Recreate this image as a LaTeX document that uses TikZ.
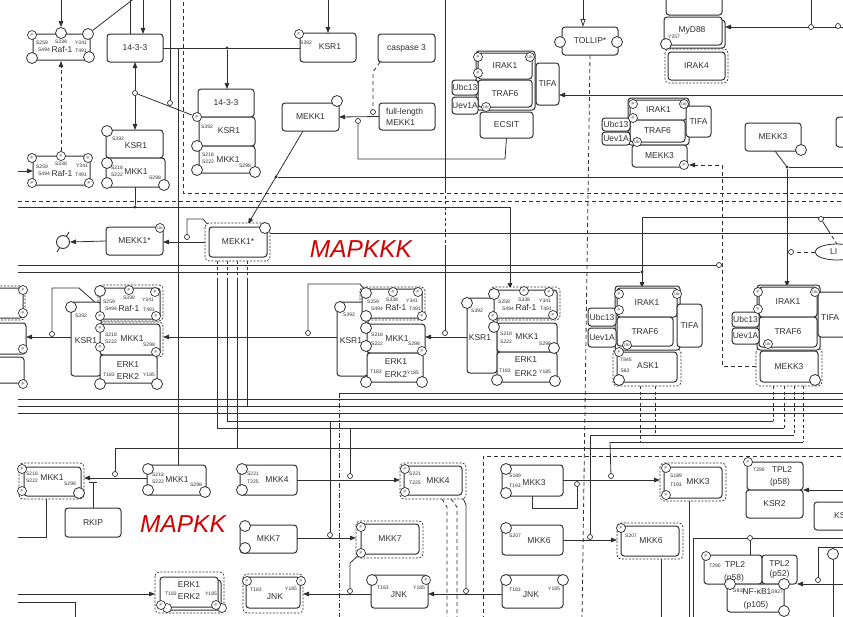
\documentclass[tikz,border=0pt]{standalone}
\usepackage{fontspec}
\setmainfont{Liberation Sans}
\usetikzlibrary{arrows.meta,backgrounds,shapes.geometric}
\definecolor{ln}{HTML}{303030}
\definecolor{mred}{HTML}{D40000}
\newcounter{lbc}
\tikzset{
  lnk/.style={draw=ln, line width=0.8pt},
  box/.style={draw=ln, line width=1pt, fill=white, rounded corners=3pt, inner sep=0pt, outer sep=0pt, font=\fontsize{8.5}{10.5}\selectfont, text=ln, align=center},
  site/.style={circle, draw=ln, line width=0.8pt, fill=white, inner sep=0pt, minimum size=11pt},
  psite/.style={circle, draw=ln, line width=0.7pt, fill=white, inner sep=0pt, minimum size=9pt, font=\fontsize{4}{4}\selectfont, text=ln},
  tl/.style={font=\fontsize{5}{5}\selectfont, text=ln, inner sep=0pt},
  lb/.style={font=\fontsize{8.5}{10.5}\selectfont, text=ln, inner sep=0pt, align=center},
  ocs/.style={circle, draw=ln, line width=0.7pt, fill=white, inner sep=0pt, minimum size=5pt},
  fds/.style={circle, fill=ln, inner sep=0pt, minimum size=3.2pt},
  arr/.style={lnk, -{Triangle[length=6pt,width=4.5pt]}},
  dsh/.style={lnk, dash pattern=on 4pt off 3pt},
  brk/.style={lnk, dash pattern=on 3pt off 2.5pt},
  dout/.style={draw=ln, line width=0.7pt, dash pattern=on 2pt off 1.5pt, rounded corners=4pt, fill=white},
  shd/.style={draw=ln, line width=1pt, fill=white, rounded corners=3pt},
  big/.style={font=\itshape\fontsize{24.5}{26}\selectfont, text=mred, inner sep=0pt},
}
\newcommand\Xbox[7][]{\node[box,minimum width={(#5)-(#3)},minimum height={(#6)-(#4)},#1] (#2) at ({((#3)+(#5))/2},{((#4)+(#6))/2}) {#7};}
\newcommand\Xst[3]{\node[site] (#1) at (#2,#3) {};}
\newcommand\Xps[3]{\node[psite] (#1) at (#2,#3) {P};}
\newcommand\Xub[3]{\node[psite] (#1) at (#2,#3) {Ub};}
\newcommand\Xtx[3]{\stepcounter{lbc}\node[tl] (t\thelbc) at (#1,#2) {#3};}
\newcommand\Xlb[3]{\stepcounter{lbc}\node[lb] (l\thelbc) at (#1,#2) {#3};}
\newcommand\Xoc[3]{\node[ocs] (#1) at (#2,#3) {};}
\newcommand\Xfd[3]{\node[fds] (#1) at (#2,#3) {};}
\newcommand\Xdb[4]{\draw[dout] (#1,#2) rectangle (#3,#4);}
\begin{document}
\begin{tikzpicture}[x=1pt,y=-1pt]
\useasboundingbox (0,0) rectangle (843,616);
% ---------- dashed outlines and shells ----------
\Xdb{98}{285}{163}{321}
\Xdb{98}{322}{163}{357}
\Xdb{360}{287}{425}{320}
\Xdb{490}{287}{560}{320}
\Xdb{613}{349}{681}{386}
\Xdb{756}{348}{822}{386}
\Xdb{665}{49}{728}{83}
\Xdb{205}{223}{270}{261}
\Xdb{19}{463}{84}{499}
\Xdb{155}{572}{224}{613}
\Xdb{243}{574}{303}{613}
\Xdb{400}{463}{466}{499}
\Xdb{356}{521}{423}{558}
\Xdb{660}{463}{726}{501}
\Xdb{617}{523}{683}{559}
\Xdb{-20}{286}{25}{320}
\draw[shd] (476,51) rectangle (535,110);
\draw[shd] (628,98) rectangle (689,145);
\draw[shd] (615,286) rectangle (680,350);
\draw[shd] (757,285) rectangle (820,350);
\draw[shd] (667,20) rectangle (725,48);
\draw[shd] (163,580) rectangle (221,610);
% ---------- boxes ----------
\Xbox{rafa}{33}{34}{90}{60}{}
\Xbox{rafb}{33}{156}{90}{185}{}
\Xbox{fa}{107}{34}{163}{62}{14-3-3}
\Xbox{ksr1a}{106}{130}{163}{158}{}
\Xbox{mkk1a}{106}{158}{165}{187}{}
\Xbox{fb}{198}{89}{254}{117}{14-3-3}
\Xbox{ksr1b}{199}{117}{255}{146}{}
\Xbox{mkk1b}{199}{146}{255}{173}{}
\Xbox{ksr1c}{300}{33}{356}{62}{}
\Xbox{casp}{378}{34}{435}{62}{caspase 3}
\Xbox{flm}{379}{103}{435}{130}{}
\Xbox{mekk1}{282}{103}{339}{131}{MEKK1}
\Xbox{irak1t}{478}{53}{532}{79}{IRAK1}
\Xbox{traf6t}{478}{80}{532}{107}{TRAF6}
\Xbox{tifat}{536}{63}{559}{105}{TIFA}
\Xbox{ubc13t}{452}{80}{478}{95}{Ubc13}
\Xbox{uev1at}{452}{97}{478}{114}{Uev1A}
\Xbox{ecsit}{480}{112}{533}{138}{ECSIT}
\Xbox{tollip}{562}{27}{618}{55}{TOLLIP*}
\Xbox{topbox}{666}{-10}{722}{15}{}
\Xbox{myd88}{664}{17}{722}{45}{}
\Xbox{irak4}{668}{52}{725}{80}{IRAK4}
\Xbox{irak1r}{630}{100}{687}{120}{IRAK1}
\Xbox{traf6r}{630}{120}{685}{142}{TRAF6}
\Xbox{mekk3r}{632}{145}{687}{167}{MEKK3}
\Xbox{tifar}{686}{106}{711}{137}{TIFA}
\Xbox{ubc13r}{602}{118}{630}{131}{Ubc13}
\Xbox{uev1ar}{602}{132}{630}{145}{Uev1A}
\Xbox{mekk3s}{745}{123}{801}{151}{MEKK3}
\Xbox{partr}{836}{117}{870}{147}{}
\Xbox{mekk1d}{106}{227}{163}{255}{MEKK1*}
\Xbox{mekk1s}{209}{227}{267}{257}{MEKK1*}
% complex A
\Xbox{pl1}{-40}{288}{23}{318}{}
\Xbox{pl2}{-40}{323}{26}{354}{}
\Xbox{pl3}{-40}{357}{24}{383}{}
\Xbox{ksrA}{71}{302}{101}{376}{}
\Xbox{rafA}{100}{288}{160}{319}{}
\Xbox{mkkA}{100}{324}{160}{355}{}
\Xbox{erkA}{100}{355}{157}{383}{}
% complex B
\Xbox{ksrB}{337}{302}{368}{376}{}
\Xbox{rafB}{362}{289}{422}{318}{}
\Xbox{mkkB}{367}{324}{425}{353}{}
\Xbox{erkB}{367}{353}{423}{382}{}
% complex C
\Xbox{ksrC}{467}{298}{497}{373}{}
\Xbox{rafC}{494}{290}{557}{318}{}
\Xbox{mkkC}{497}{323}{557}{352}{}
\Xbox{erkC}{497}{352}{557}{382}{}
% complex D
\Xbox{irak1D}{617}{288}{677}{317}{IRAK1}
\Xbox{traf6D}{617}{317}{673}{346}{TRAF6}
\Xbox{tifaD}{677}{304}{702}{347}{TIFA}
\Xbox{ubc13D}{588}{308}{616}{326}{Ubc13}
\Xbox{uev1aD}{588}{328}{616}{347}{Uev1A}
\Xbox{ask1}{617}{352}{677}{382}{}
% complex E
\Xbox{irak1E}{759}{287}{817}{317}{IRAK1}
\Xbox{traf6E}{759}{317}{817}{347}{TRAF6}
\Xbox{tifaE}{818}{292}{870}{337}{}
\Xbox{ubc13E}{732}{312}{759}{327}{Ubc13}
\Xbox{uev1aE}{732}{328}{759}{344}{Uev1A}
\Xbox{mekk3E}{760}{351}{818}{382}{MEKK3}
% bottom
\Xbox{mkk1c}{24}{467}{81}{496}{}
\Xbox{mkk1bb}{147}{465}{206}{495}{}
\Xbox{rkip}{65}{508}{121}{537}{RKIP}
\Xbox{mkk4a}{240}{465}{297}{495}{}
\Xbox{mkk7a}{240}{525}{297}{553}{MKK7}
\Xbox{erkbb}{160}{577}{218}{607}{}
\Xbox{jnkl}{246}{577}{300}{608}{}
\Xbox{mkk4b}{404}{466}{462}{495}{}
\Xbox{mkk7b}{361}{524}{419}{554}{MKK7}
\Xbox{jnka}{371}{575}{428}{608}{}
\Xbox{mkk3a}{502}{465}{563}{496}{}
\Xbox{mkk6a}{502}{525}{563}{555}{}
\Xbox{jnkb}{502}{575}{563}{608}{}
\Xbox{mkk3b}{664}{467}{722}{498}{}
\Xbox{mkk6b}{621}{526}{679}{556}{}
\Xbox{tpl2u}{747}{462}{803}{490}{}
\Xbox{ksr2}{746}{490}{803}{518}{KSR2}
\Xbox{ksp}{814}{502}{870}{530}{}
\Xbox{tpl58}{704}{555}{762}{584}{}
\Xbox{tpl52}{762}{555}{797}{584}{TPL2\\(p52)}
\Xbox{nfkb}{727}{584}{784}{612}{}
\node[ellipse, draw=ln, line width=0.8pt, fill=white, minimum width=44pt, minimum height=16pt, inner sep=0pt] (li) at (837,252) {};
\node[lb, anchor=west] (lit) at (830,252) {LI};
% ---------- sites and labels ----------
\Xps{rafaP}{32}{35}\Xst{rafa1}{61}{33}\Xst{rafa2}{88}{34}\Xst{rafa3}{32}{58}\Xst{rafa4}{89}{57}
\Xtx{42}{43}{S259}\Xtx{61}{42}{S338}\Xtx{81}{43}{Y341}\Xtx{44}{50}{S494}\Xlb{62}{49}{Raf-1}\Xtx{81}{51}{T491}
\Xps{rafb1}{32}{158}\Xps{rafb2}{61}{156}\Xps{rafb3}{88}{158}\Xps{rafb4}{32}{183}\Xps{rafb5}{89}{183}
\Xtx{42}{167}{S259}\Xtx{61}{164}{S338}\Xtx{82}{166}{Y341}\Xtx{44}{174}{S494}\Xlb{62}{173}{Raf-1}\Xtx{81}{175}{T491}
\Xst{ksr1a1}{107}{131}\Xtx{118}{139}{S392}\Xlb{136}{146}{KSR1}
\Xst{mkk1a1}{107}{163}\Xst{mkk1a2}{107}{183}\Xst{mkk1a3}{164}{185}
\Xtx{117}{168}{S218}\Xtx{117}{175}{S222}\Xlb{136}{172}{MKK1}\Xtx{155}{178}{S298}
\Xps{ksr1bP}{197}{117}\Xtx{207}{127}{S392}\Xlb{229}{131}{KSR1}
\Xst{mkk1b1}{197}{146}\Xst{mkk1b2}{197}{170}\Xst{mkk1b3}{255}{172}
\Xtx{208}{155}{S218}\Xtx{208}{162}{S222}\Xlb{228}{160}{MKK1}\Xtx{245}{166}{S298}
\Xps{ksr1cP}{299}{34}\Xtx{306}{43}{S392}\Xlb{330}{47}{KSR1}
\node[lb, align=left, anchor=west] (flt) at (386,117) {full-length\\MEKK1};
\Xst{mekk1c}{337}{101}
\Xps{irt1}{478}{57}\Xps{irt2}{478}{73}\Xub{irt3}{530}{57}\Xub{irt4}{486}{107}
\Xst{tol1}{560}{42}\Xst{tol2}{617}{42}
\Xst{myd1}{666}{44}\Xtx{674}{37}{Y257}\Xlb{692}{30}{MyD88}
\Xps{irr1}{633}{104}\Xps{irr2}{633}{118}\Xub{irr3}{684}{104}\Xub{irr4}{637}{142}\Xps{irr5}{684}{165}
\Xst{mekk3sc}{801}{150}
\Xub{mekk1dub}{160}{228}
\Xst{mekk1sc}{265}{228}
\node[circle, draw=ln, line width=0.9pt, fill=white, minimum size=13pt, inner sep=0pt] (empty) at (63,242) {};
% complex A
\Xst{rA1}{100}{291}\Xps{rA2}{129}{290}\Xps{rA3}{155}{292}\Xps{rA4}{100}{316}\Xps{rA5}{156}{316}
\Xtx{109}{302}{S259}\Xtx{129}{298}{S338}\Xtx{148}{300}{Y341}\Xtx{111}{309}{S494}\Xlb{129}{308}{Raf-1}\Xtx{149}{310}{T491}
\Xst{kA1}{71}{307}\Xtx{81}{316}{S392}\Xlb{86}{341}{KSR1}
\Xps{mA1}{100}{328}\Xps{mA2}{100}{347}\Xps{mA3}{156}{352}
\Xtx{111}{335}{S218}\Xtx{111}{342}{S222}\Xlb{132}{339}{MKK1}\Xtx{149}{345}{S298}
\Xst{eA1}{100}{384}\Xst{eA2}{157}{384}\Xlb{128}{365}{ERK1}\Xtx{109}{375}{T183}\Xlb{128}{377}{ERK2}\Xtx{149}{375}{Y185}
\Xps{pl1P}{23}{290}\Xps{pl2P}{23}{313}\Xps{pl3P}{23}{349}\Xps{pl4P}{23}{384}
% complex B
\Xst{rB1}{366}{293}\Xps{rB2}{393}{292}\Xps{rB3}{418}{292}\Xst{rB4}{366}{316}\Xps{rB5}{422}{316}
\Xtx{373}{302}{S259}\Xtx{392}{300}{S338}\Xtx{412}{301}{Y341}\Xtx{377}{309}{S494}\Xlb{396}{307}{Raf-1}\Xtx{415}{309}{T491}
\Xst{kB1}{340}{307}\Xtx{349}{315}{S392}\Xlb{351}{341}{KSR1}
\Xst{mB1}{366}{328}\Xst{mB2}{366}{346}\Xps{mB3}{422}{351}
\Xtx{377}{335}{S218}\Xtx{377}{344}{S222}\Xlb{397}{339}{MKK1}\Xtx{414}{344}{S298}
\Xst{eB1}{366}{382}\Xst{eB2}{422}{382}\Xlb{396}{362}{ERK1}\Xtx{376}{372}{T183}\Xlb{396}{375}{ERK2}\Xtx{413}{373}{Y185}
% complex C
\Xst{rC1}{494}{294}\Xps{rC2}{524}{291}\Xps{rC3}{549}{292}\Xps{rC4}{493}{316}\Xps{rC5}{553}{315}
\Xtx{504}{302}{S259}\Xtx{524}{300}{S338}\Xtx{545}{301}{Y341}\Xtx{508}{309}{S494}\Xlb{526}{307}{Raf-1}\Xtx{546}{309}{T491}
\Xst{kC1}{467}{303}\Xtx{477}{311}{S392}\Xlb{480}{338}{KSR1}
\Xst{mC1}{494}{327}\Xst{mC2}{554}{348}
\Xtx{506}{334}{S218}\Xtx{506}{342}{S222}\Xlb{527}{337}{MKK1}\Xtx{545}{344}{S298}
\Xst{eC1}{497}{380}\Xst{eC2}{555}{381}\Xlb{526}{360}{ERK1}\Xtx{505}{371}{T183}\Xlb{526}{374}{ERK2}\Xtx{545}{372}{Y185}
% complex D
\Xps{iD1}{619}{294}\Xps{iD2}{619}{310}\Xub{iD3}{677}{294}\Xub{iD4}{627}{345}\Xps{iD5}{619}{352}\Xst{iD6}{619}{380}
\Xtx{626}{360}{T845}\Xtx{625}{371}{S83}\Xlb{648}{366}{ASK1}
% complex E
\Xps{iE1}{758}{292}\Xps{iE2}{758}{309}\Xub{iE3}{815}{292}\Xub{iE4}{768}{344}\Xst{iE5}{815}{380}
\node[lb, anchor=west] (tifaEt) at (821,318) {TIFA};
% bottom
\Xps{m1c1}{22}{469}\Xps{m1c2}{22}{491}\Xst{m1c3}{79}{493}
\Xtx{32}{474}{S218}\Xtx{32}{481}{S222}\Xlb{52}{478}{MKK1}\Xtx{70}{484}{S298}
\Xst{m1b1}{148}{469}\Xst{m1b2}{148}{490}\Xst{m1b3}{205}{492}
\Xtx{158}{475}{S218}\Xtx{158}{482}{S222}\Xlb{177}{480}{MKK1}\Xtx{196}{485}{S298}
\Xst{m4a1}{242}{469}\Xst{m4a2}{242}{490}\Xtx{253}{474}{S221}\Xtx{253}{482}{T225}\Xlb{277}{480}{MKK4}
\Xst{m7a1}{245}{526}\Xst{m7a2}{245}{548}
\node[psite] (ebb0) at (167,608) {};\node[psite] (ebb00) at (222,608) {};
\Xps{ebb1}{161}{605}\Xps{ebb2}{216}{605}
\Xlb{189}{585}{ERK1}\Xtx{171}{594}{T183}\Xlb{189}{597}{ERK2}\Xtx{211}{594}{Y185}
\Xps{jl1}{247}{581}\Xps{jl2}{301}{581}\Xtx{256}{590}{T183}\Xtx{291}{589}{Y185}\Xlb{275}{597}{JNK}
\Xps{m4b1}{405}{469}\Xps{m4b2}{405}{492}\Xtx{415}{474}{S221}\Xtx{415}{483}{T225}\Xlb{438}{481}{MKK4}
\Xps{m7b1}{361}{527}\Xps{m7b2}{361}{553}
\Xst{ja1}{372}{580}\Xps{ja2}{426}{580}\Xtx{383}{588}{T183}\Xtx{419}{588}{Y185}\Xlb{399}{595}{JNK}
\Xst{m3a1}{506}{469}\Xst{m3a2}{506}{493}\Xtx{515}{476}{S189}\Xtx{515}{486}{T193}\Xlb{534}{483}{MKK3}
\Xst{m6a1}{506}{528}\Xtx{515}{536}{S207}\Xlb{539}{541}{MKK6}
\Xst{jb1}{506}{580}\Xst{jb2}{563}{580}\Xtx{515}{590}{T183}\Xtx{554}{589}{Y185}\Xlb{531}{595}{JNK}
\Xps{m3b1}{666}{468}\Xps{m3b2}{666}{495}\Xtx{676}{476}{S189}\Xtx{676}{485}{T193}\Xlb{698}{482}{MKK3}
\Xps{m6b1}{621}{528}\Xtx{631}{536}{S207}\Xlb{651}{541}{MKK6}
\Xps{tpu1}{748}{462}\Xtx{759}{470}{T290}\Xlb{782}{470}{TPL2}\Xlb{780}{482}{(p58)}
\node[lb, anchor=west] (kspt) at (834,516) {KSR2};
\Xps{tp58}{706}{556}\Xtx{715}{566}{T290}\Xlb{735}{565}{TPL2}\Xlb{734}{578}{(p58)}
\Xst{nf1}{730}{584}\Xst{nf2}{784}{584}\Xst{nf3}{784}{611}
\Xtx{739}{591}{S932}\Xlb{757}{592}{NF-κB1}\Xtx{777}{592}{S927}\Xlb{756}{605}{(p105)}
\Xst{rc1}{833}{554}
\node[big] (mapkkk) at (361,249) {MAPKKK};
\node[big] (mapkk) at (183,524) {MAPKK};
% small circles and dots
\Xoc{oc1}{170}{103}\Xoc{oc2}{135}{93}\Xfd{fd1}{227}{48}\Xfd{fd2}{135}{207}
\Xoc{oc3}{373}{112}\Xoc{oc4}{358}{121}\Xfd{fd3}{276}{177}\Xoc{oc5}{811}{27}\Xoc{oc6}{838}{26}
\Xfd{fd4}{787}{167}\Xoc{oc7}{187}{237}\Xfd{fd5}{642}{272}\Xoc{oc8}{719}{265}\Xoc{oc9}{791}{252}
\Xoc{oc10}{821}{219}\Xoc{oc11}{52}{334}\Xoc{oc12}{308}{333}\Xoc{oc13}{445}{333}
\Xoc{oc14}{115}{474}\Xoc{oc15}{350}{476}\Xoc{oc16}{330}{535}\Xoc{oc17}{350}{591}\Xoc{oc18}{466}{591}
\Xoc{oc19}{611}{476}\Xoc{oc20}{577}{484}\Xoc{oc21}{590}{537}\Xoc{oc22}{750}{538}\Xoc{oc23}{818}{580}
% ---------- connectors ----------
\begin{pgfonlayer}{background}
% frames
\draw[dsh] (183,-5) -- (183,193) -- (850,193);
\draw[dsh] (18,201) -- (850,201);
\draw[dsh] (tollip.south) -- (582,620);
\draw[dsh] (483,620) -- (483,456) -- (850,456);
\draw[lnk, dash pattern=on 5pt off 2pt on 1pt off 2pt] (339,393) -- (339,620);
\draw[lnk] (339,393) -- (850,393);
% top-left
\draw[arr] (61,-5) -- (rafa1);
\draw[lnk] (rafa2) -- (136,-3);
\draw[lnk] (130,-5) -- (130,34);
\draw[arr] (143,-5) -- (143,34);
\draw[lnk] (170,-5) -- (oc1);
\draw[arr, dash pattern=on 4pt off 3pt] (rafb2) -- (61,61);
\draw[arr] (18,171) -- (33,171);
\draw[arr] (oc2) -- (135,62);
\draw[arr] (oc2) -- (135,130);
\draw[lnk] (oc2) -- (ksr1bP);
\draw[lnk] (163,48) -- (300,48);
\draw[arr] (fd1) -- (227,89);
\draw[lnk] (178,48) -- (178,465);
\draw[lnk] (135,187) -- (fd2);
\draw[lnk] (18,207) -- (510,207);
\draw[arr] (510,207) -- (510,289);
\draw[arr] (328,-5) -- (328,33);
\draw[arr] (flm.west) -- (mekk1.east);
\draw[dsh] (380,62) -- (373,72) -- (oc3);
\draw[lnk] (oc4) -- (358,159) -- (505,159) -- (ecsit.south);
\draw[arr] (303,131) -- (248,224);
\draw[lnk] (fd3) -- (850,177);
\draw[lnk] (445,-5) -- (445,190);
\draw[brk] (445,190) -- (445,245);
\draw[lnk] (445,245) -- (oc13);
% top-right
\draw[lnk, -{Triangle[open,length=8pt,width=5pt]}] (583,-5) -- (583,27);
\draw[arr] (850,27) -- (725,27);
\draw[lnk] (811,-5) -- (oc5);
\draw[arr] (850,95) -- (559,95);
\draw[lnk] (775,151) -- (fd4);
\draw[lnk] (fd4) -- (850,167);
\draw[arr] (fd4) -- (787,287);
\draw[arr, dash pattern=on 4pt off 3pt] (756,366) -- (722,366) -- (722,165) -- (689,165);
% band
\draw[lnk] (642,217) -- (850,217);
\draw[arr] (642,217) -- (642,288);
\draw[lnk] (270,233) -- (850,233);
\draw[lnk] (18,265) -- (oc8);
\draw[lnk] (18,272) -- (fd5);
\draw[dsh] (li.west) -- (oc9);
\draw[lnk] (oc10) -- (828,230);
\draw[dsh] (828,230) -- (837,244);
\draw[arr] (mekk1d.west) -- (empty.east);
\draw[lnk, line width=0.9pt] (57,252) -- (69,232);
\draw[arr] (205,242) -- (163,242);
\draw[lnk] (oc7) -- (187,219) -- (203,219) -- (209,226);
\draw[brk] (217,261) -- (217,280); \draw[lnk] (217,280) -- (217,428) -- (784,428);
\draw[brk] (227,261) -- (227,280); \draw[lnk] (227,280) -- (227,421) -- (773,421);
\draw[brk] (237,261) -- (237,280); \draw[lnk] (237,280) -- (237,448);
\draw[brk] (247,261) -- (247,280); \draw[lnk] (247,280) -- (247,406);
\draw[lnk] (18,399) -- (850,399);
\draw[lnk] (18,406) -- (850,406);
\draw[lnk] (18,413) -- (850,413);
\draw[lnk] (115,448) -- (850,448);
\draw[brk] (640,386) -- (640,442);
\draw[brk] (655,386) -- (655,435);
\draw[brk] (773,386) -- (773,421);
\draw[brk] (784,386) -- (784,428);
\draw[brk] (794,386) -- (794,435);
\draw[brk] (803,386) -- (803,442);
\draw[lnk] (590,435) -- (794,435);
\draw[lnk] (610,442) -- (803,442);
\draw[lnk] (590,435) -- (oc21);
\draw[lnk] (610,442) -- (oc19);
% rows of complexes
\draw[arr] (71,337) -- (26,337);
\draw[lnk] (oc11) -- (52,288) -- (79,288) -- (97,304);
\draw[arr] (337,337) -- (163,337);
\draw[lnk] (oc12) -- (308,284) -- (360,284) -- (364,289);
\draw[arr] (467,337) -- (425,337);
% bottom
\draw[arr] (147,478) -- (84,478);
\draw[lnk] (115,448) -- (oc14);
\draw[lnk, -{Bar[width=8pt]}] (rkip.north) -- (93,482);
\draw[lnk] (46,499) -- (46,537) -- (18,537);
\draw[arr] (18,594) -- (155,594);
\draw[lnk] (18,602) -- (75,602) -- (75,620);
\draw[arr] (297,480) -- (400,480);
\draw[lnk] (350,428) -- (oc15);
\draw[arr] (297,538) -- (356,538);
\draw[lnk] (330,421) -- (oc16);
\draw[lnk] (m7b2) -- (350,563) -- (oc17);
\draw[arr] (371,594) -- (303,594);
\draw[arr] (502,594) -- (428,594);
\draw[dsh] (442,499) -- (447,507) -- (447,620);
\draw[dsh] (451,499) -- (457,507) -- (457,620);
\draw[lnk] (463,498) -- (466,505) -- (oc18);
\draw[arr] (563,480) -- (660,480);
\draw[lnk] (532,496) -- (532,508) -- (577,508) -- (oc20);
\draw[arr] (563,540) -- (617,540);
\draw[lnk] (689,501) -- (689,620);
\draw[lnk] (661,559) -- (661,620);
\draw[lnk] (693,620) -- (693,538) -- (850,538);
\draw[lnk] (oc22) -- (750,555);
\draw[arr] (850,490) -- (803,490);
\draw[arr] (850,584) -- (797,584);
\draw[lnk] (oc23) -- (818,547) -- (850,547);
\draw[lnk] (rc1) -- (833,620);
\end{pgfonlayer}
\end{tikzpicture}
\end{document}
